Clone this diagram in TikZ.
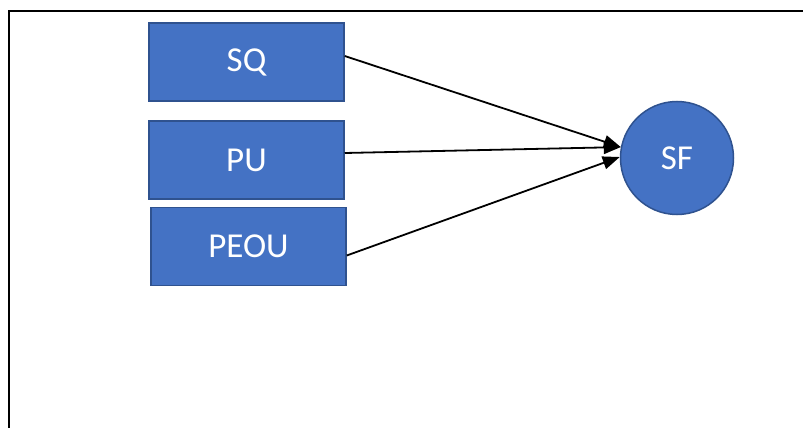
\documentclass[tikz,border=0pt]{standalone}
\usepackage{fontspec}
\setmainfont{Carlito}
\usetikzlibrary{arrows.meta,positioning}

\definecolor{boxblue}{HTML}{4472C4}
\definecolor{boxedge}{HTML}{2F528F}

\begin{document}
\begin{tikzpicture}[x=1pt,y=-1pt,
    varbox/.style={rectangle, fill=boxblue, draw=boxedge, line width=1.5pt,
      minimum width=195pt, minimum height=78pt, inner sep=0pt,
      text=white, font=\fontsize{35}{40}\selectfont},
    outcome/.style={circle, fill=boxblue, draw=boxedge, line width=1.5pt,
      minimum size=113pt, inner sep=0pt,
      text=white, font=\fontsize{35}{40}\selectfont},
    link/.style={-{Triangle[length=17pt,width=13pt]}, line width=1.8pt}]

  \useasboundingbox (0,0) rectangle (803,428);
  \clip (0,0) rectangle (803,428);

  % Frame, running off the page at right and bottom
  \draw[line width=2pt] (9,440) -- (9,11) -- (815,11);

  % Predictors
  \node[varbox] (sq)   at (246.5,62)  {SQ};
  \node[varbox] (pu)   at (246.5,160) {PU};
  \node[varbox] (peou) at (248.5,246.5) {PEOU};

  % Outcome
  \node[outcome] (sf) at (677,158) {SF};

  % Paths into SF
  \draw[link] ([yshift=6pt]sq.east) -- (sf.169);
  \draw[link] ([yshift=7pt]pu.east) -- (sf.169);
  \draw[link] ([yshift=-9pt]peou.east) -- (sf.179);

\end{tikzpicture}
\end{document}
